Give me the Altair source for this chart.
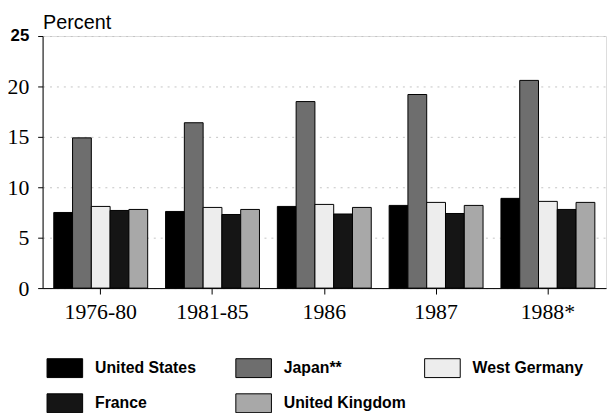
import altair as alt
import pandas as pd

periods = ["1976-80", "1981-85", "1986", "1987", "1988*"]
countries = ["United States", "Japan**", "West Germany", "France", "United Kingdom"]
united_states = [7.5, 7.6, 8.1, 8.2, 8.9]
japan = [14.9, 16.4, 18.5, 19.2, 20.6]
west_germany = [8.1, 8.0, 8.3, 8.5, 8.6]
france = [7.7, 7.3, 7.35, 7.4, 7.8]
united_kingdom = [7.8, 7.8, 8.0, 8.2, 8.5]
colors = ["#000000", "#6e6e6e", "#ededed", "#151515", "#a8a8a8"]

series = [united_states, japan, west_germany, france, united_kingdom]
rows = []
for c, vals in zip(countries, series):
    for p, v in zip(periods, vals):
        rows.append({"period": p, "country": c, "value": v})
df = pd.DataFrame(rows)

is25 = "datum.value == 25"
y_axis = alt.Axis(
    values=[0, 5, 10, 15, 20, 25],
    title="Percent",
    titleAngle=0,
    titleAlign="left",
    titleBaseline="alphabetic",
    titleX=0,
    titleY=-8,
    titleFont="Liberation Sans",
    titleFontSize=20,
    titleFontWeight="normal",
    titleColor="black",
    labelFont={"condition": {"test": is25, "value": "Liberation Sans"}, "value": "Liberation Serif"},
    labelFontWeight={"condition": {"test": is25, "value": "bold"}, "value": "normal"},
    labelFontSize={"condition": {"test": is25, "value": 17}, "value": 22},
    labelColor="black",
    labelPadding=9,
    tickSize=5,
    tickColor="black",
    domainColor="black",
    grid=True,
    gridColor="#c4c4c4",
    gridDash=[2, 5],
    gridWidth=1,
)

x_axis = alt.Axis(
    title=None,
    labelAngle=0,
    labelFont="Liberation Serif",
    labelFontSize=22,
    labelColor="black",
    labelPadding=8,
    tickSize=6,
    tickColor="black",
    domainColor="black",
)

legend = alt.Legend(
    title=None,
    orient="none",
    legendX=4,
    legendY=317,
    direction="horizontal",
    columns=3,
    gridAlign="all",
    columnPadding=16,
    rowPadding=5,
    padding=0,
    symbolType="M-1,-0.53H1V0.53H-1Z",
    symbolSize=1296,
    symbolStrokeColor="black",
    symbolStrokeWidth=1,
    symbolOpacity=1,
    labelFont="Liberation Sans",
    labelFontSize=16,
    labelFontWeight="bold",
    labelColor="black",
    labelOffset=12,
    labelLimit=300,
)

chart = alt.Chart(df).mark_bar(stroke="black", strokeWidth=1).encode(
    x=alt.X("period:N", sort=periods,
            scale=alt.Scale(paddingInner=0.16, paddingOuter=0.1), axis=x_axis),
    xOffset=alt.XOffset("country:N", sort=countries,
                        scale=alt.Scale(paddingInner=0, paddingOuter=0)),
    y=alt.Y("value:Q", scale=alt.Scale(domain=[0, 25]), axis=y_axis),
    fill=alt.Fill("country:N", sort=countries,
                  scale=alt.Scale(domain=countries, range=colors), legend=legend),
).properties(
    width=570,
    height=255,
    autosize=alt.AutoSizeParams(type="none"),
    padding={"left": 35, "top": 26, "right": 2, "bottom": 124},
).configure_view(
    stroke="black", strokeWidth=1
).configure(background="white")

chart.save("out.html", embed_options={"renderer": "svg", "actions": False})
